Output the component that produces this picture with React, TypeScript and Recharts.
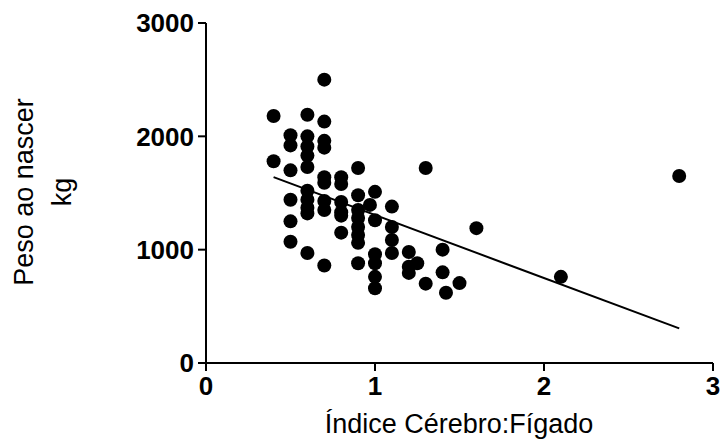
import React from "react";
import { ScatterChart, Scatter, XAxis, YAxis, ReferenceLine } from "recharts";

const indexValues = [
  0.4, 0.4,
  0.5, 0.5, 0.5, 0.5, 0.5, 0.5,
  0.6, 0.6, 0.6, 0.6, 0.6, 0.6, 0.6, 0.6, 0.6, 0.6,
  0.7, 0.7, 0.7, 0.7, 0.7, 0.7, 0.7, 0.7, 0.7,
  0.8, 0.8, 0.8, 0.8, 0.8, 0.8,
  0.9, 0.9, 0.9, 0.9, 0.9, 0.9, 0.9, 0.9,
  0.97,
  1.0, 1.0, 1.0, 1.0, 1.0, 1.0,
  1.1, 1.1, 1.1, 1.1,
  1.2, 1.2, 1.2,
  1.25,
  1.3, 1.3,
  1.4, 1.4, 1.42,
  1.5, 1.6, 2.1, 2.8,
];

const weightValues = [
  2180, 1780,
  2010, 1920, 1700, 1440, 1250, 1070,
  2190, 2000, 1910, 1830, 1730, 1520, 1440, 1370, 1320, 970,
  2500, 2130, 1960, 1900, 1640, 1590, 1430, 1350, 860,
  1640, 1580, 1420, 1330, 1300, 1150,
  1720, 1480, 1350, 1280, 1200, 1130, 1060, 880,
  1395,
  1510, 1260, 960, 880, 760, 660,
  1380, 1200, 1085, 970,
  980, 850, 795,
  880,
  1720, 700,
  1000, 800, 620,
  705, 1190, 760, 1650,
];

const fitLineX = [0.4, 2.8];
const fitLineY = [1640, 305];

const xTicks = [0, 1, 2, 3];
const yTicks = [0, 1000, 2000, 3000];

const points = indexValues.map((x, i) => ({ x, y: weightValues[i] }));

const FONT = "'Liberation Sans', Arial, sans-serif";

const Dot = (props: any) => {
  const { cx, cy } = props;
  if (cx == null || cy == null) return null;
  return <circle cx={cx} cy={cy} r={7} fill="#000" />;
};

export default function App() {
  return (
    <div style={{ position: "absolute", left: 0, top: 0, width: 720, height: 443, background: "#fff" }}>
      <ScatterChart width={720} height={443} margin={{ top: 23, right: 7, bottom: 0, left: 0 }}>
        <XAxis
          type="number"
          dataKey="x"
          domain={[0, 3]}
          ticks={xTicks}
          allowDataOverflow
          height={80}
          stroke="#000"
          strokeWidth={2}
          tickSize={8}
          tickMargin={6}
          tick={{ fill: "#000", fontSize: 26, fontWeight: 700, fontFamily: FONT }}
        />
        <YAxis
          type="number"
          dataKey="y"
          domain={[0, 3000]}
          ticks={yTicks}
          allowDataOverflow
          width={206}
          stroke="#000"
          strokeWidth={2}
          tickSize={8}
          tickMargin={4}
          tick={{ fill: "#000", fontSize: 26, fontWeight: 700, fontFamily: FONT }}
        />
        <ReferenceLine
          segment={[
            { x: fitLineX[0], y: fitLineY[0] },
            { x: fitLineX[1], y: fitLineY[1] },
          ]}
          stroke="#000"
          strokeWidth={2}
        />
        <Scatter data={points} shape={<Dot />} isAnimationActive={false} />
        <text
          x={459}
          y={433}
          textAnchor="middle"
          style={{ fill: "#000", fontSize: 27, fontFamily: FONT }}
        >
          Índice Cérebro:Fígado
        </text>
        <text
          transform="translate(33,192) rotate(-90)"
          textAnchor="middle"
          style={{ fill: "#000", fontSize: 27, fontFamily: FONT }}
        >
          Peso ao nascer
        </text>
        <text
          transform="translate(71,192) rotate(-90)"
          textAnchor="middle"
          style={{ fill: "#000", fontSize: 27, fontFamily: FONT }}
        >
          kg
        </text>
      </ScatterChart>
    </div>
  );
}
